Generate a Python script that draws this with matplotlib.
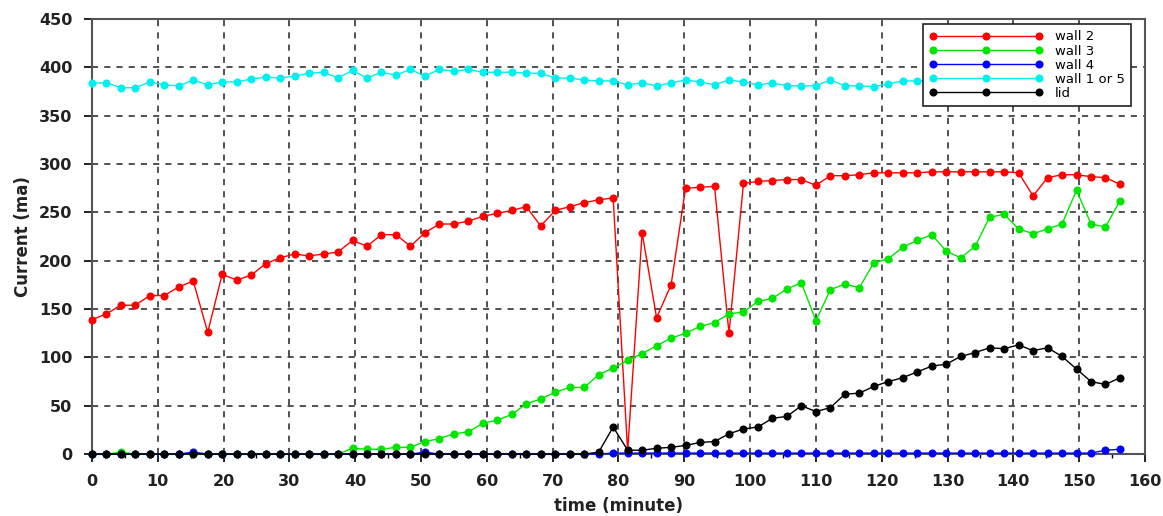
import matplotlib
matplotlib.use("Agg")
import matplotlib.pyplot as plt
from matplotlib.ticker import MultipleLocator

time_min = [0.0, 2.2, 4.4, 6.6, 8.8, 11.0, 13.2, 15.4, 17.6, 19.8,
            22.0, 24.2, 26.4, 28.6, 30.8, 33.0, 35.2, 37.4, 39.6, 41.8,
            44.0, 46.2, 48.4, 50.6, 52.8, 55.0, 57.2, 59.4, 61.6, 63.8,
            66.0, 68.2, 70.4, 72.6, 74.8, 77.0, 79.2, 81.4, 83.6, 85.8,
            88.0, 90.2, 92.4, 94.6, 96.8, 99.0, 101.2, 103.4, 105.6, 107.8,
            110.0, 112.2, 114.4, 116.6, 118.8, 121.0, 123.2, 125.4, 127.6, 129.8,
            132.0, 134.2, 136.4, 138.6, 140.8, 143.0, 145.2, 147.4, 149.6, 151.8,
            154.0, 156.2]

wall2 = [139, 145, 154, 154, 164, 164, 173, 179, 126, 186,
         180, 185, 197, 203, 207, 205, 207, 209, 221, 215,
         227, 227, 215, 229, 238, 238, 241, 246, 249, 252,
         256, 236, 252, 256, 260, 263, 265, 3, 229, 141,
         175, 275, 276, 277, 125, 280, 282, 283, 284, 284,
         278, 288, 288, 289, 291, 291, 291, 291, 292, 292,
         292, 292, 292, 292, 291, 267, 286, 289, 289, 287,
         286, 279]

wall3 = [0, 0, 2, 0, 0, 0, 0, 0, 0, 0,
         0, 0, 0, 0, 0, 0, 0, 0, 6, 5,
         5, 7, 7, 13, 16, 21, 23, 32, 35, 41,
         52, 57, 64, 69, 69, 82, 89, 97, 104, 112,
         120, 125, 132, 136, 145, 147, 158, 161, 171, 177,
         138, 170, 176, 172, 198, 202, 214, 221, 227, 210,
         203, 215, 245, 248, 233, 228, 233, 238, 273, 238,
         235, 262]

wall4 = [0, 0, 0, 0, 0, 0, 0, 2, 0, 0,
         0, 0, 0, 0, 0, 0, 0, 0, 0, 0,
         0, 0, 0, 2, 0, 0, 0, 0, 0, 0,
         0, 0, 0, 0, 0, 0, 1, 1, 1, 1,
         1, 1, 1, 1, 1, 1, 1, 1, 1, 1,
         1, 1, 1, 1, 1, 1, 1, 1, 1, 1,
         1, 1, 1, 1, 1, 1, 1, 1, 1, 1,
         4, 5]

wall1or5 = [384, 384, 379, 379, 385, 382, 381, 387, 382, 385,
            385, 388, 390, 389, 391, 394, 395, 389, 397, 389,
            395, 392, 398, 391, 398, 396, 398, 395, 395, 395,
            394, 394, 389, 389, 387, 386, 386, 382, 384, 381,
            384, 387, 385, 382, 387, 385, 382, 384, 381, 381,
            381, 387, 381, 381, 380, 383, 386, 386, 387, 386,
            386, 386, 386, 385, 385, 386, 386, 385, 385, 385,
            386, 386]

lid = [0, 0, 0, 0, 0, 0, 0, 0, 0, 0,
       0, 0, 0, 0, 0, 0, 0, 0, 0, 0,
       0, 0, 0, 0, 0, 0, 0, 0, 0, 0,
       0, 0, 0, 0, 0, 2, 28, 4, 4, 6,
       7, 9, 12, 13, 21, 26, 28, 37, 39, 50,
       44, 48, 62, 63, 70, 75, 79, 85, 91, 93,
       101, 105, 110, 109, 113, 107, 110, 101, 88, 75,
       72, 79]

series = [("wall 2", wall2, "#ff0000"),
          ("wall 3", wall3, "#00e600"),
          ("wall 4", wall4, "#0000ff"),
          ("wall 1 or 5", wall1or5, "#00f0f0"),
          ("lid", lid, "#000000")]

plt.rcParams['font.family'] = ['DejaVu Sans']
fig = plt.figure(figsize=(11.63, 5.16), dpi=100)
ax = fig.add_axes([0.079, 0.120, 0.9055, 0.843])

for name, vals, col in series:
    ax.plot(time_min, vals, color=col, lw=1.0, marker='o', markersize=5.8,
            markeredgewidth=0, label=name, clip_on=False, zorder=3)

ax.set_xlim(0, 160)
ax.set_ylim(0, 450)
ax.xaxis.set_major_locator(MultipleLocator(10))
ax.xaxis.set_minor_locator(MultipleLocator(5))
ax.yaxis.set_major_locator(MultipleLocator(50))
ax.grid(True, which='major', color='#222222', linestyle=(0, (4, 4)), linewidth=1.1)
ax.tick_params(axis='both', which='major', direction='out', length=6, width=1.2,
               labelsize=11.5)
ax.tick_params(axis='y', which='major', pad=8)
ax.tick_params(axis='x', which='major', pad=8)
ax.tick_params(axis='x', which='minor', direction='out', length=3, width=1.0)
for lbl in ax.get_xticklabels() + ax.get_yticklabels():
    lbl.set_fontweight('bold')
    lbl.set_color('#222222')
for s in ax.spines.values():
    s.set_color('#555555')
    s.set_linewidth(1.5)

ax.set_xlabel("time (minute)", fontsize=12, fontweight='bold', color='#222222',
              labelpad=6)
ax.set_ylabel("Current (ma)", fontsize=12, fontweight='bold', color='#222222',
              labelpad=5)

leg = ax.legend(loc='upper right', bbox_to_anchor=(0.987, 0.989), fontsize=9.5,
                numpoints=3, handlelength=8.6, labelspacing=0.08,
                fancybox=False, framealpha=1.0, edgecolor='#222222',
                borderpad=0.5, handletextpad=0.9, borderaxespad=0.0)
leg.get_frame().set_linewidth(1.2)
leg.set_zorder(10)

fig.savefig("out.png", dpi=100)
